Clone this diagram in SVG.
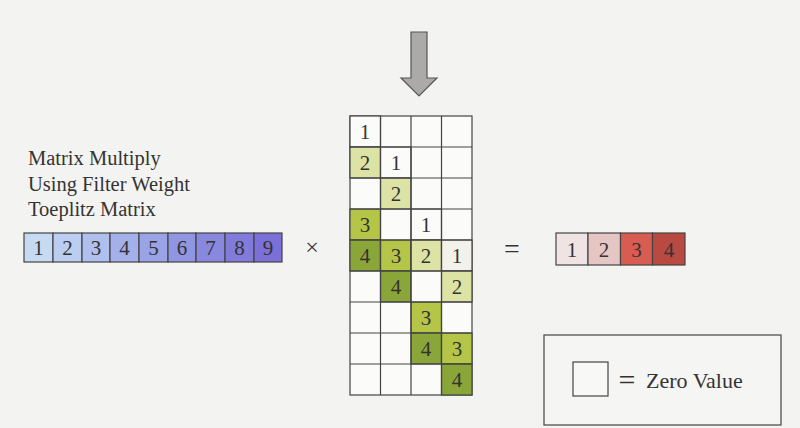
<svg xmlns="http://www.w3.org/2000/svg" width="800" height="428" viewBox="0 0 800 428">
<style>
text{font-family:"Liberation Serif","Times New Roman",serif;fill:#333}
.n{font-size:21px;text-anchor:middle}
.c{stroke:#444;stroke-width:1.2}
.w{fill:#fbfbf9}
.g1{fill:#dde3a4}
.g2{fill:#b4c548}
.g3{fill:#8aa538}
.lbl{font-size:20.5px}
</style>
<rect width="800" height="428" fill="#f3f3f1"/>
<g id="arrow">
<polygon points="411,32 427,32 427,78 437,78 419,96 401,78 411,78" fill="#acaaa9" stroke="#555" stroke-width="1.2"/>
</g>
<g id="title">
<text class="lbl" x="28" y="165">Matrix Multiply</text>
<text class="lbl" x="28" y="191">Using Filter Weight</text>
<text class="lbl" x="28" y="216">Toeplitz Matrix</text>
</g>
<g id="input">
<rect class="c" x="24" y="233" width="29" height="29" fill="#c6daf2"/>
<rect class="c" x="53" y="233" width="29" height="29" fill="#bbcdf0"/>
<rect class="c" x="82" y="233" width="28" height="29" fill="#afbfee"/>
<rect class="c" x="110" y="233" width="29" height="29" fill="#a3b0ea"/>
<rect class="c" x="139" y="233" width="29" height="29" fill="#99a3e6"/>
<rect class="c" x="168" y="233" width="28" height="29" fill="#9096e2"/>
<rect class="c" x="196" y="233" width="29" height="29" fill="#8888de"/>
<rect class="c" x="225" y="233" width="29" height="29" fill="#817cdb"/>
<rect class="c" x="254" y="233" width="28" height="29" fill="#7b70d8"/>
<text class="n" x="38.5" y="255">1</text>
<text class="n" x="67.5" y="255">2</text>
<text class="n" x="96" y="255">3</text>
<text class="n" x="124.5" y="255">4</text>
<text class="n" x="153.5" y="255">5</text>
<text class="n" x="182" y="255">6</text>
<text class="n" x="210.5" y="255">7</text>
<text class="n" x="239.5" y="255">8</text>
<text class="n" x="268" y="255">9</text>
</g>
<g id="times"><text x="312" y="255" font-size="24" text-anchor="middle">×</text></g>
<g id="toeplitz">
<rect class="c w" x="350" y="116" width="122" height="279"/>
<rect class="c w" x="350" y="116" width="30.5" height="31"/>
<rect class="c g1" x="350" y="147" width="30.5" height="31"/>
<rect class="c w" x="380.5" y="147" width="30.5" height="31"/>
<rect class="c g1" x="380.5" y="178" width="30.5" height="31"/>
<rect class="c g2" x="350" y="209" width="30.5" height="31"/>
<rect class="c w" x="411" y="209" width="30.5" height="31"/>
<rect class="c g3" x="350" y="240" width="30.5" height="31"/>
<rect class="c g2" x="380.5" y="240" width="30.5" height="31"/>
<rect class="c g1" x="411" y="240" width="30.5" height="31"/>
<rect class="c" x="441.5" y="240" width="30.5" height="31" fill="#f2f2ea"/>
<rect class="c g3" x="380.5" y="271" width="30.5" height="31"/>
<rect class="c g1" x="441.5" y="271" width="30.5" height="31"/>
<rect class="c g2" x="411" y="302" width="30.5" height="31"/>
<rect class="c g3" x="411" y="333" width="30.5" height="31"/>
<rect class="c g2" x="441.5" y="333" width="30.5" height="31"/>
<rect class="c g3" x="441.5" y="364" width="30.5" height="31"/>
<g fill="none" stroke="#444" stroke-width="1.2">
<path d="M380.5,116V395M411,116V395M441.5,116V395"/>
<path d="M350,147H472M350,178H472M350,209H472M350,240H472M350,271H472M350,302H472M350,333H472M350,364H472"/>
</g>
<text class="n" x="365" y="139">1</text>
<text class="n" x="365" y="170">2</text>
<text class="n" x="396" y="170">1</text>
<text class="n" x="396" y="201">2</text>
<text class="n" x="365" y="232">3</text>
<text class="n" x="426" y="232">1</text>
<text class="n" x="365" y="263">4</text>
<text class="n" x="396" y="263">3</text>
<text class="n" x="426" y="263">2</text>
<text class="n" x="457" y="263">1</text>
<text class="n" x="396" y="294">4</text>
<text class="n" x="457" y="294">2</text>
<text class="n" x="426" y="325">3</text>
<text class="n" x="426" y="356">4</text>
<text class="n" x="457" y="356">3</text>
<text class="n" x="457" y="387">4</text>
</g>
<g id="equals"><text x="512" y="258" font-size="28" text-anchor="middle">=</text></g>
<g id="output">
<rect class="c" x="556" y="233" width="32" height="32" fill="#efe4e3"/>
<rect class="c" x="588" y="233" width="32.5" height="32" fill="#e6c6c2"/>
<rect class="c" x="620.5" y="233" width="32" height="32" fill="#d85c52"/>
<rect class="c" x="652.5" y="233" width="32.5" height="32" fill="#b84a42"/>
<text class="n" x="572" y="257">1</text>
<text class="n" x="604" y="257">2</text>
<text class="n" x="636.5" y="257">3</text>
<text class="n" x="669" y="257">4</text>
</g>
<g id="legend">
<rect x="544" y="335" width="237" height="90" fill="#f5f5f3" stroke="#444" stroke-width="1.2"/>
<rect x="573" y="362" width="35" height="34" fill="#f8f8f6" stroke="#444" stroke-width="1.2"/>
<text x="627" y="390" font-size="30" text-anchor="middle">=</text>
<text x="646" y="388" font-size="22">Zero Value</text>
</g>
</svg>
